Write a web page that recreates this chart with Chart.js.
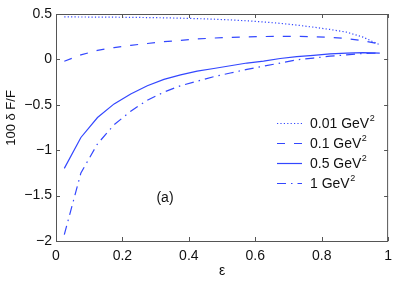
<!DOCTYPE html>
<html>
<head>
<meta charset="utf-8">
<script src="https://cdn.jsdelivr.net/npm/chart.js@4.4.0/dist/chart.umd.min.js"></script>
<style>
  html, body { margin: 0; padding: 0; background: #fff; }
  #wrap { width: 399px; height: 282px; position: relative; }
</style>
</head>
<body>
<div id="wrap"><canvas id="c"></canvas></div>
<script>
// epsilon values where the curves were sampled
const eps = [0.025, 0.075, 0.125, 0.175, 0.225, 0.275, 0.325, 0.375, 0.425, 0.475,
             0.525, 0.575, 0.625, 0.675, 0.725, 0.775, 0.825, 0.875, 0.925, 0.975];

// 100 dF/F for each Q^2
const q001 = [0.468, 0.467, 0.466, 0.465, 0.463, 0.461, 0.458, 0.454, 0.449, 0.443,
              0.435, 0.425, 0.412, 0.397, 0.378, 0.355, 0.330, 0.300, 0.245, 0.160];
const q01  = [-0.02, 0.05, 0.10, 0.13, 0.155, 0.175, 0.195, 0.21, 0.225, 0.235,
              0.243, 0.248, 0.252, 0.254, 0.254, 0.25, 0.243, 0.23, 0.205, 0.17];
const q05  = [-1.20, -0.86, -0.64, -0.49, -0.38, -0.29, -0.22, -0.17, -0.13, -0.10,
              -0.07, -0.04, -0.02, 0.01, 0.03, 0.045, 0.06, 0.07, 0.075, 0.07];
const q1   = [-1.93, -1.25, -0.93, -0.72, -0.57, -0.45, -0.36, -0.29, -0.24, -0.19,
              -0.15, -0.11, -0.075, -0.04, -0.005, 0.015, 0.035, 0.05, 0.065, 0.07];

const seriesLabels = ['0.01 GeV', '0.1 GeV', '0.5 GeV', '1 GeV'];
const panelLabel = '(a)';
const yTitle = '100 \u03b4 F/F';

const BLUE = '#3347ff';
const FONT = "'Liberation Sans', Arial, Helvetica, sans-serif";
const dashes = [[1.2, 2.2], [8, 9], [], [9, 5, 1.5, 5]];

const toPts = ys => eps.map((e, i) => ({ x: e, y: ys[i] }));
const fmt = v => (v < 0 ? '\u2212' : '') + String(Math.round(Math.abs(v) * 10) / 10);

const frame = {
    id: 'frame',
    afterDraw(chart) {
        const { ctx, chartArea: a, scales } = chart;
        ctx.save();
        ctx.strokeStyle = '#555';
        ctx.lineWidth = 1;
        ctx.strokeRect(a.left + 0.5, a.top + 0.5, a.right - a.left - 1, a.bottom - a.top);

        // inward ticks on all four sides
        ctx.beginPath();
        scales.x.ticks.forEach(t => {
            const px = Math.round(scales.x.getPixelForValue(t.value)) + 0.5;
            ctx.moveTo(px, a.bottom); ctx.lineTo(px, a.bottom - 4);
            ctx.moveTo(px, a.top); ctx.lineTo(px, a.top + 4);
        });
        scales.y.ticks.forEach(t => {
            const py = Math.round(scales.y.getPixelForValue(t.value)) + 0.5;
            ctx.moveTo(a.left, py); ctx.lineTo(a.left + 4, py);
            ctx.moveTo(a.right, py); ctx.lineTo(a.right - 4, py);
        });
        ctx.stroke();

        // legend
        const lx = 277, tx = 310;
        chart.data.datasets.forEach((ds, i) => {
            const y = 123.5 + i * 20;
            ctx.strokeStyle = ds.borderColor;
            ctx.lineWidth = ds.borderWidth;
            ctx.setLineDash(ds.borderDash);
            ctx.beginPath();
            ctx.moveTo(lx, y); ctx.lineTo(lx + 25, y);
            ctx.stroke();
            ctx.setLineDash([]);
            ctx.fillStyle = '#111';
            ctx.font = '14px ' + FONT;
            ctx.textBaseline = 'middle';
            ctx.textAlign = 'left';
            ctx.fillText(ds.label, tx, y + 1);
            const w = ctx.measureText(ds.label).width;
            ctx.font = '9px ' + FONT;
            ctx.fillText('2', tx + w + 0.5, y - 5);
        });

        ctx.font = '14px ' + FONT;
        ctx.fillStyle = '#111';
        ctx.textAlign = 'center';
        ctx.textBaseline = 'middle';
        ctx.fillText(panelLabel, 165, 198);

        // y axis title, sits a little above the middle of the plot
        ctx.translate(11, 118);
        ctx.rotate(-Math.PI / 2);
        ctx.font = '13px ' + FONT;
        ctx.fillText(yTitle, 0, 0);
        ctx.restore();
    }
};

const datasets = [q001, q01, q05, q1].map((ys, i) => ({
    label: seriesLabels[i],
    data: toPts(ys),
    borderColor: BLUE,
    borderWidth: 1.2,
    borderDash: dashes[i],
    pointRadius: 0,
    fill: false,
    tension: 0
}));

new Chart(document.getElementById('c'), {
    type: 'line',
    data: { datasets },
    options: {
        responsive: true,
        maintainAspectRatio: false,
        animation: false,
        layout: { padding: { top: 14, right: 9, left: 0, bottom: 0 } },
        plugins: { legend: { display: false }, tooltip: { enabled: false } },
        scales: {
            x: {
                type: 'linear', min: 0, max: 1,
                grid: { display: false, drawTicks: false },
                border: { display: false },
                ticks: { stepSize: 0.2, padding: 7, color: '#111', font: { family: FONT, size: 14 }, callback: fmt, maxRotation: 0 },
                title: { display: true, text: '\u03b5', color: '#111', font: { family: FONT, size: 14 }, padding: { top: 0, bottom: 2 } },
                afterFit: s => { s.height = 41; }
            },
            y: {
                type: 'linear', min: -2, max: 0.5,
                grid: { display: false, drawTicks: false },
                border: { display: false },
                ticks: { stepSize: 0.5, padding: 4, color: '#111', font: { family: FONT, size: 14 }, callback: fmt },
                afterFit: s => { s.width = 56; }
            }
        }
    },
    plugins: [frame]
});
</script>
</body>
</html>
